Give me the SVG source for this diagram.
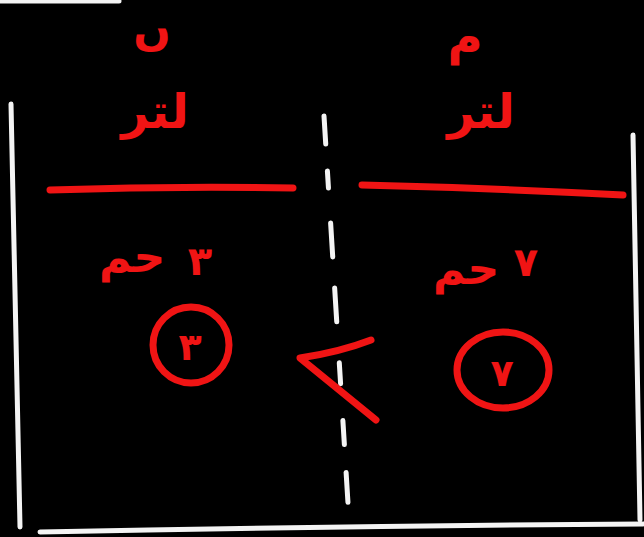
<svg xmlns="http://www.w3.org/2000/svg" width="644" height="537" viewBox="0 0 644 537">
<style>
.w{fill:none;stroke:#f4f4f4;stroke-width:5;stroke-linecap:round}
.r{fill:none;stroke:#f01414;stroke-width:7;stroke-linecap:round;stroke-linejoin:round}
.t{fill:#f01414;font-family:"DejaVu Sans","Noto Sans",sans-serif;font-weight:bold;text-anchor:middle}
</style>
<rect width="644" height="537" fill="#000"/>
<g id="frame">
<path class="w" d="M0 1 L119 1"/>
<path class="w" d="M11 104 Q16 320 20 527"/>
<path class="w" d="M633 135 Q636 330 640 520"/>
<path class="w" d="M40 532 Q340 526 643 524"/>
</g>
<g id="connectors">
<path class="w" d="M324 116 Q336 310 348 503" stroke-dasharray="28 27 17 35 34 31 34 41 21 37 24 28 30 40"/>
<path class="r" d="M50 190 Q170 186 293 188"/>
<path class="r" d="M362 185 Q490 188 623 195"/>
</g>
<g id="left-top">
<text class="t" x="152" y="45" font-size="44">ں</text>
<text class="t" x="155" y="128" font-size="48">لتر</text>
</g>
<g id="right-top">
<text class="t" x="465" y="54" font-size="48">م</text>
<text class="t" x="481" y="128" font-size="48">لتر</text>
</g>
<g id="left-bottom">
<text class="t" x="132" y="272" font-size="44">حم</text>
<text class="t" x="200" y="275" font-size="40">٣</text>
<ellipse class="r" cx="191" cy="345" rx="38" ry="38"/>
<text class="t" x="190" y="360" font-size="38">٣</text>
</g>
<g id="right-bottom">
<text class="t" x="466" y="284" font-size="44">حم</text>
<text class="t" x="526" y="276" font-size="40">٧</text>
<ellipse class="r" cx="503" cy="370" rx="46" ry="38"/>
<text class="t" x="502" y="386" font-size="38">٧</text>
</g>
<g id="comparison">
<path class="r" d="M371 340 Q340 352 300 358 L376 420"/>
</g>
</svg>
